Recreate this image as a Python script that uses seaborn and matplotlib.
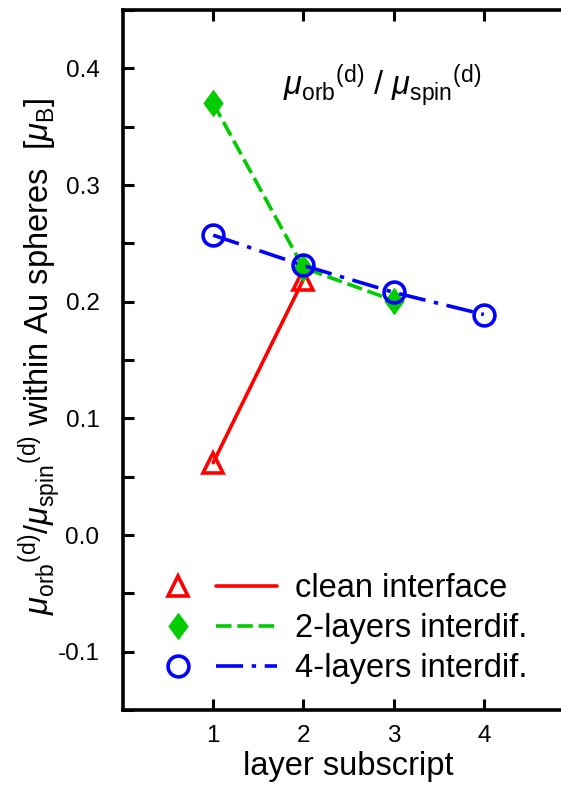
import matplotlib
matplotlib.use("Agg")
import matplotlib.pyplot as plt
from matplotlib.lines import Line2D
from matplotlib.legend_handler import HandlerTuple
from matplotlib.ticker import MultipleLocator
import seaborn as sns

# layer subscript and orbital/spin moment ratio for each interface model
clean_x = [1, 2]
clean_y = [0.062, 0.219]
interdif2_x = [1, 2, 3]
interdif2_y = [0.370, 0.229, 0.201]
interdif4_x = [1, 2, 3, 4]
interdif4_y = [0.257, 0.231, 0.208, 0.189]

labels = ["clean interface", "2-layers interdif.", "4-layers interdif."]
x_ticks = [1, 2, 3, 4]
y_ticks = [-0.1, 0.0, 0.1, 0.2, 0.3, 0.4]

sns.set_theme(style="ticks")
plt.rcParams["font.family"] = ["Liberation Sans", "DejaVu Sans"]
plt.rcParams["mathtext.fontset"] = "custom"
plt.rcParams["mathtext.rm"] = "Liberation Sans"
plt.rcParams["mathtext.it"] = "Liberation Sans:italic"
for key in ["text.color", "axes.labelcolor", "xtick.color", "ytick.color",
            "axes.edgecolor"]:
    plt.rcParams[key] = "black"

RED = "#ff0000"
GREEN = "#00cc00"
BLUE = "#0000ff"
LW = 2.6
FS = 23.5

fig = plt.figure(figsize=(5.61, 7.85), dpi=100)
ax = fig.add_axes([123 / 561, 1 - 710 / 785, 451 / 561, 700 / 785])

diamond = [(0, 1), (0.74, 0), (0, -1), (-0.74, 0), (0, 1)]

styles = [
    dict(color=RED, linestyle="-", marker="^", markersize=15,
         markerfacecolor="none", markeredgecolor=RED, markeredgewidth=2.6),
    dict(color=GREEN, linestyle=(0, (4.3, 1.6)), marker=diamond, markersize=19,
         markerfacecolor=GREEN, markeredgecolor=GREEN, markeredgewidth=0.5),
    dict(color=BLUE, linestyle=(0, (7.5, 2.4, 1.2, 2.4)), marker="o", markersize=15,
         markerfacecolor="none", markeredgecolor=BLUE, markeredgewidth=2.6),
]

series = [(clean_x, clean_y), (interdif2_x, interdif2_y), (interdif4_x, interdif4_y)]
for (xs, ys), st in zip(series, styles):
    sns.lineplot(x=xs, y=ys, ax=ax, lw=LW, legend=False, **st)

ax.set_xlim(0, 5)
ax.set_ylim(-0.15, 0.45)
ax.set_xticks(x_ticks)
ax.set_xticklabels([str(v) for v in x_ticks])
ax.set_yticks(y_ticks)
ax.set_yticklabels([f"{v:.1f}" for v in y_ticks])
ax.yaxis.set_minor_locator(MultipleLocator(0.05))

for side in ["left", "bottom", "top", "right"]:
    ax.spines[side].set_linewidth(2.6)
    ax.spines[side].set_color("black")
ax.tick_params(axis="both", which="both", direction="in", top=True, right=True,
               width=2.2, color="black")
ax.tick_params(axis="both", which="major", length=8, labelsize=17.5)
ax.tick_params(axis="y", which="minor", length=8)
ax.tick_params(axis="y", which="major", pad=17)
ax.tick_params(axis="x", which="major", pad=11)

ax.set_xlabel("layer subscript", fontsize=FS, labelpad=3)
ax.set_ylabel("")

fig.text(40 / 561, 1 - 357 / 785,
         r"$\mu_{\mathrm{orb}}{}^{\mathrm{(d)}}/\mu_{\mathrm{spin}}{}^{\mathrm{(d)}}$"
         r" within Au spheres  [$\mu_{\mathrm{B}}$]",
         rotation=90, ha="center", va="center", fontsize=FS)

ax.text(2.87, 0.385,
        r"$\mu_{\mathrm{orb}}{}^{\mathrm{(d)}}$ / $\mu_{\mathrm{spin}}{}^{\mathrm{(d)}}$",
        ha="center", va="center", fontsize=FS)

handles = []
for st in styles:
    mk = Line2D([], [], linestyle="none", marker=st["marker"], markersize=st["markersize"],
                markerfacecolor=st["markerfacecolor"], markeredgecolor=st["markeredgecolor"],
                markeredgewidth=st["markeredgewidth"])
    ln = Line2D([], [], color=st["color"], linestyle=st["linestyle"], lw=LW)
    handles.append((mk, ln))

ax.legend(handles, labels, handler_map={tuple: HandlerTuple(ndivide=None, pad=0.245)},
          loc="lower left", bbox_to_anchor=(0.027, 0.018), fontsize=FS, frameon=False,
          handlelength=3.93, handletextpad=0.58, labelspacing=0.28, borderaxespad=0)

fig.savefig("out.png", dpi=100)
